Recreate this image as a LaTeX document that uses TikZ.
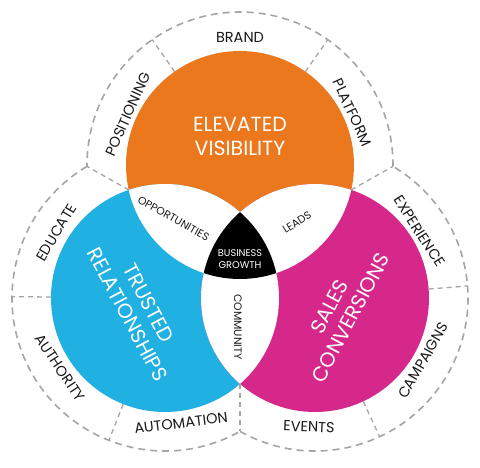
\documentclass[tikz,border=0pt]{standalone}
\usepackage{fontspec}
\setmainfont{Poppins}
\definecolor{orng}{RGB}{236,120,30}
\definecolor{blu}{RGB}{32,176,226}
\definecolor{mag}{RGB}{214,40,138}
\definecolor{dgray}{RGB}{165,165,165}
\definecolor{txt}{RGB}{25,25,25}
\begin{document}
\begin{tikzpicture}[x=1pt,y=1pt,
  ring/.style={draw=dgray, line width=1.6pt, dash pattern=on 7pt off 5pt},
  divider/.style={draw=dgray, line width=1.3pt, dash pattern=on 5pt off 4pt},
  big/.style={text=white, align=center, font=\fontsize{20.5}{24}\selectfont, inner sep=0pt},
  small/.style={text=txt, font=\fontsize{10.8}{12}\selectfont, inner sep=0pt},
  outer/.style={text=txt, font=\fontsize{14.5}{16}\selectfont, inner sep=0pt}]
\useasboundingbox (0,0) rectangle (480,467);
\fill[white] (0,0) rectangle (480,467);
% centres
\coordinate (O) at (240,302);
\coordinate (B) at (165,169);
\coordinate (M) at (315,169);
% junction points
\coordinate (jOBin) at (128.75,277.09);
\coordinate (jOBout) at (87,300.63);
\coordinate (jOMin) at (351.25,277.09);
\coordinate (jOMout) at (393,300.63);
\coordinate (jBMin) at (240,83.15);
\coordinate (jBMout) at (240,35.64);
% circles
\fill[orng] (O) circle (114);
\fill[blu] (B) circle (114);
\fill[mag] (M) circle (114);
\begin{scope}
  \clip (O) circle (114);
  \fill[white] (B) circle (114);
  \fill[white] (M) circle (114);
\end{scope}
\begin{scope}
  \clip (B) circle (114);
  \fill[white] (M) circle (114);
\end{scope}
\begin{scope}
  \clip (O) circle (114);
  \clip (B) circle (114);
  \fill[black] (M) circle (114);
\end{scope}
% outer dashed boundary
\draw[ring] ([shift={(-0.51:153)}]O) arc[start angle=-0.51, end angle=180.51, radius=153];
\draw[ring] ([shift={(120.65:153)}]B) arc[start angle=120.65, end angle=299.35, radius=153];
\draw[ring] ([shift={(240.65:153)}]M) arc[start angle=240.65, end angle=419.35, radius=153];
% junction dividers
\draw[divider] (jOBin) -- (jOBout);
\draw[divider] (jOMin) -- (jOMout);
\draw[divider] (jBMin) -- (jBMout);
% radial dividers
\foreach \c/\a in {O/55, O/125, B/179.5, B/248.5, M/295, M/4.5}
  \draw[divider] ([shift={(\a:114)}]\c) -- ([shift={(\a:153)}]\c);
% main labels
\node[big] (ev) at (240,331) {ELEVATED\\VISIBILITY};
\node[big, rotate=-62] (tr) at (138,158) {TRUSTED\\RELATIONSHIPS};
\node[big, rotate=62] (sc) at (340,155) {SALES\\CONVERSIONS};
\node[text=white, align=center, inner sep=0pt, font=\fontsize{9.8}{11.5}\selectfont] (bg) at (240,208) {BUSINESS\\GROWTH};
\node[small, rotate=-29] (opp) at (173.5,248.5) {OPPORTUNITIES};
\node[small, rotate=32] (lead) at (297,245) {LEADS};
\node[small, rotate=-90] (comm) at (238,140) {COMMUNITY};
% outer labels
\node[outer] (brand) at ([shift={(90:128)}]O) {BRAND};
\node[outer, rotate=65.5] (pos) at ([shift={(155.5:123)}]O) {POSITIONING};
\node[outer, rotate=-65] (plat) at ([shift={(25:124)}]O) {PLATFORM};
\node[outer, rotate=59] (edu) at ([shift={(149:127)}]B) {EDUCATE};
\node[outer, rotate=-56.5] (auth) at ([shift={(213.5:126)}]B) {AUTHORITY};
\node[outer, rotate=7.3] (auto) at ([shift={(277.3:126)}]B) {AUTOMATION};
\node[outer, rotate=-2.7] (evt) at ([shift={(267.3:129)}]M) {EVENTS};
\node[outer, rotate=60] (camp) at ([shift={(-30:125)}]M) {CAMPAIGNS};
\node[outer, rotate=-57.5] (exp) at ([shift={(32.5:124)}]M) {EXPERIENCE};
\end{tikzpicture}
\end{document}
